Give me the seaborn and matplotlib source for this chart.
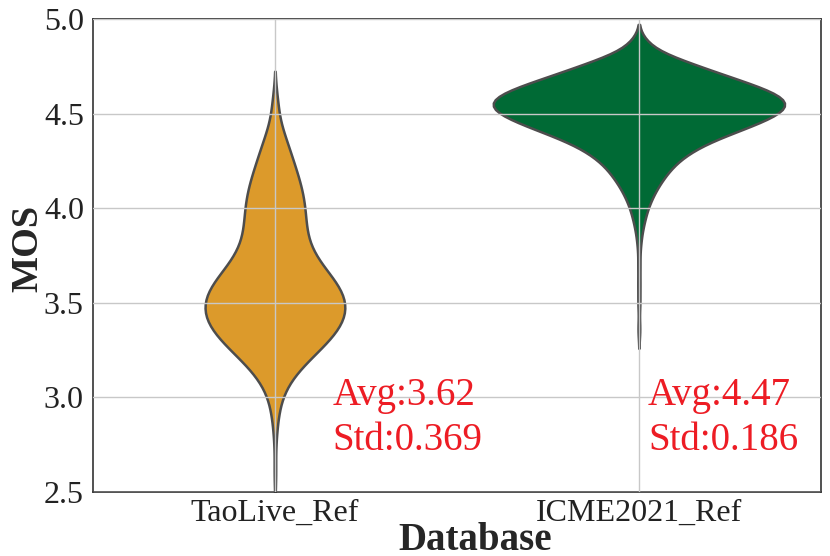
import numpy as np
import pandas as pd
import matplotlib
matplotlib.use('Agg')
import matplotlib.pyplot as plt
import seaborn as sns

databases = ['TaoLive_Ref', 'ICME2021_Ref']

# MOS levels and how many references fall at each
tao_levels = [2.6, 2.7, 2.8, 2.9, 3.0, 3.1, 3.2, 3.3, 3.4, 3.5, 3.6, 3.7, 3.8, 3.9, 4.0, 4.1, 4.2, 4.3, 4.4, 4.55]
tao_counts = [1, 0, 1, 2, 4, 10, 22, 36, 46, 48, 42, 30, 22, 20, 20, 18, 14, 10, 6, 3]

icme_levels = [3.36, 3.50, 3.60, 3.70, 3.80, 3.85, 3.90, 3.95, 4.00, 4.05, 4.10, 4.15, 4.20, 4.25, 4.30, 4.35,
               4.40, 4.45, 4.50, 4.55, 4.60, 4.65, 4.70, 4.75, 4.80, 4.87]
icme_counts = [1, 1, 1, 1, 1, 1, 2, 3, 4, 6, 8, 11, 14, 18, 24, 32,
               44, 56, 66, 72, 66, 54, 40, 28, 16, 6]

avg_labels = ['Avg:3.62', 'Avg:4.47']
std_labels = ['Std:0.369', 'Std:0.186']
text_x = [0.159, 1.025]
colors = ['#DC9A2B', '#006A35']
widths = [0.384, 0.8]

tao = pd.DataFrame({'Database': databases[0], 'MOS': np.repeat(tao_levels, tao_counts)})
icme = pd.DataFrame({'Database': databases[1], 'MOS': np.repeat(icme_levels, icme_counts)})

sns.set_style('whitegrid')
plt.rcParams['font.family'] = ['Liberation Serif', 'DejaVu Serif']

fig = plt.figure(figsize=(8.3, 5.56), dpi=100)
ax = fig.add_axes([0.112, 0.115, 0.877, 0.851])

for d, c, w in zip([tao, icme], colors, widths):
    sns.violinplot(data=d, x='Database', y='MOS', order=databases, color=c, width=w,
                   inner=None, bw_method=0.25, linewidth=1.8, linecolor='#4d4d4d',
                   saturation=1, ax=ax)

ax.set_ylim(2.5, 5.0)
ax.set_xlim(-0.5, 1.5)
ax.set_yticks([2.5, 3.0, 3.5, 4.0, 4.5, 5.0])
ax.set_axisbelow(False)
ax.grid(True, color='#c8c8c8', linewidth=1.0)
for s in ax.spines.values():
    s.set_color('#333333')
    s.set_linewidth(1.2)
ax.tick_params(axis='both', labelsize=23, colors='#222222', length=3, width=1)
ax.tick_params(axis='x', pad=2)
ax.set_xlabel('Database', fontsize=28, fontweight='bold', labelpad=-4.5, x=0.525)
ax.set_ylabel('MOS', fontsize=27.5, fontweight='bold', labelpad=-1, y=0.515)

for i in range(2):
    ax.text(text_x[i], 3.01, avg_labels[i], color='#ED1C24', fontsize=28, va='center', ha='left')
    ax.text(text_x[i], 2.775, std_labels[i], color='#ED1C24', fontsize=28, va='center', ha='left')

fig.savefig('out.png', dpi=100)
